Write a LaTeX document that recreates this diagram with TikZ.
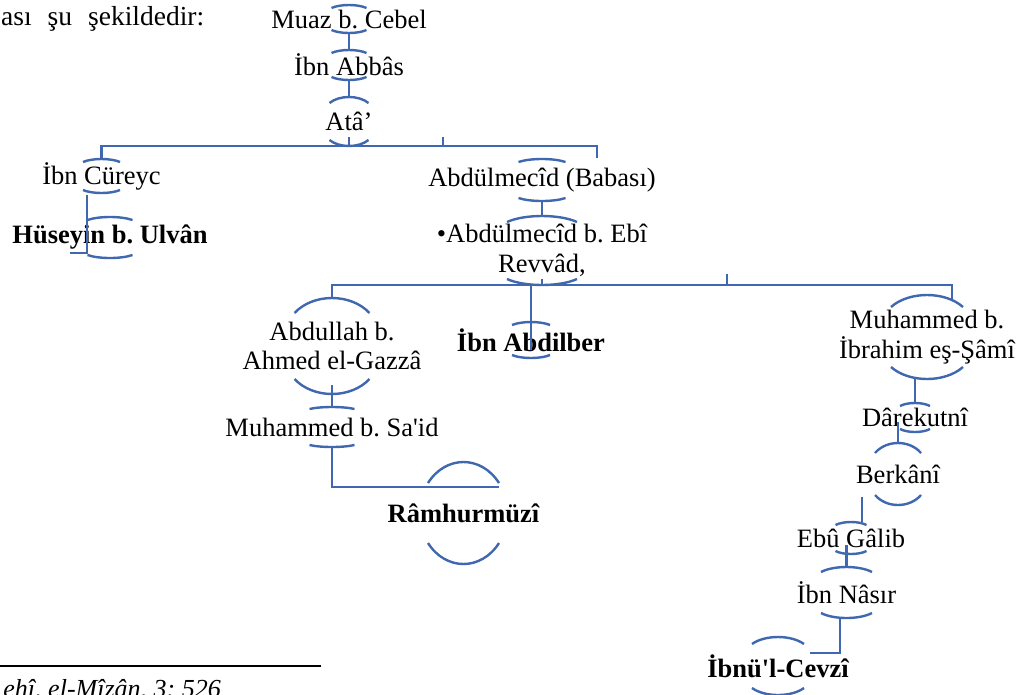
\documentclass[tikz,border=0pt]{standalone}
\usepackage{fontspec}
\setmainfont{Liberation Serif}
\usepackage{tikz}
\usetikzlibrary{calc}
\definecolor{chainblue}{HTML}{4068B0}
\frenchspacing

% bracket pair round a narrator: node, half width, half height, sag
\newcommand{\brk}[4]{%
  \draw[brkline] ($(#1)+(-#2,-#3+#4)$) .. controls ($(#1)+(-#2/2,-#3-#4/3)$) and ($(#1)+(#2/2,-#3-#4/3)$) .. ($(#1)+(#2,-#3+#4)$);
  \draw[brkline] ($(#1)+(-#2,#3-#4)$) .. controls ($(#1)+(-#2/2,#3+#4/3)$) and ($(#1)+(#2/2,#3+#4/3)$) .. ($(#1)+(#2,#3-#4)$);
  \coordinate (#1-t) at ($(#1)+(0,-#3)$);
  \coordinate (#1-b) at ($(#1)+(0,#3)$);
}

\begin{document}
\begin{tikzpicture}[x=1pt, y=-1pt,
  person/.style={font=\fontsize{26.5}{29.5}\selectfont, align=center, inner sep=0pt},
  bperson/.style={person, font=\fontsize{26.5}{29.5}\selectfont\bfseries},
  brkline/.style={draw=chainblue, line width=2.4pt},
  conn/.style={draw=chainblue, line width=2.4pt}
]
\useasboundingbox[fill=white] (0,0) rectangle (1022,694);

% text round the chart
\node[person, font=\fontsize{27.5}{30}\selectfont, anchor=base west] (intro) at (1,25) {\makebox[203pt][s]{ası şu şekildedir:}};
\draw[line width=1.5pt] (0,666) -- (321,666);
\node[person, font=\fontsize{26}{29}\selectfont\itshape, anchor=base east] (foot) at (221,697) {ehî, el-Mîzân, 3: 526};

% top of the chain
\node[person] (muaz) at (349,19) {Muaz b. Cebel};
\node[person] (abbas) at (349,65) {İbn Abbâs};
\node[person] (ata) at (349,121.5) {Atâ’};
\brk{muaz}{17.5}{14}{3}
\brk{abbas}{17.5}{15}{3}
\brk{ata}{19.5}{24.5}{6}
\draw[conn] (muaz-b) -- (abbas-t);
\draw[conn] (abbas-b) -- (ata-t);

% level 2
\node[person] (cureyc) at (101.5,176) {İbn Cüreyc};
\node[bperson] (huseyin) at (110,237.5) {Hüseyin b. Ulvân};
\node[person] (babasi) at (542,180) {Abdülmecîd (Babası)};
\node[person] (revvad) at (542,250.5) {•Abdülmecîd b. Ebî\\Revvâd,};
\brk{cureyc}{18.5}{17}{3}
\brk{huseyin}{22.5}{20.5}{3}
\brk{babasi}{23.5}{21}{3}
\brk{revvad}{35}{34.5}{6}
\coordinate (babasi-in) at (597,158);
\draw[conn] (ata-b) -- ++(0,-9);
\draw[conn] ($(ata-b)+(94,0)$) -- ++(0,-9);
\draw[conn] (cureyc-t) |- (babasi-in |- ata-b) -- (babasi-in);
\draw[conn] ($(cureyc-b)+(-14.5,2)$) |- ($(huseyin)+(-40,15.5)$);
\draw[conn] (babasi-b) -- (revvad-t);

% level 3
\node[person] (abdullah) at (332,346) {Abdullah b.\\Ahmed el-Gazzâ};
\node[bperson] (abdilber) at (531,340) {İbn Abdilber};
\node[person] (sami) at (927,337) {Muhammed b.\\İbrahim eş-Şâmî};
\brk{abdullah}{37.5}{48}{15}
\brk{abdilber}{19}{18}{3}
\brk{sami}{36}{42}{12}
\coordinate (sami-in) at (952,299);
\draw[conn] (revvad-b) -- ++(0,-6);
\draw[conn] ($(revvad-b)+(185,0)$) -- ++(0,-11);
\draw[conn] (abdullah-t) |- (sami-in |- revvad-b) -- (sami-in);
\draw[conn] (abdilber |- revvad-b) -- ($(abdilber)+(0,10)$);

% left branch
\node[person] (said) at (332,427) {Muhammed b. Sa\textquotesingle id};
\node[bperson] (ramhurmuzi) at (463.5,513) {Râmhurmüzî};
\brk{said}{22.5}{20}{2}
\brk{ramhurmuzi}{35.5}{51}{21}
\draw[conn] (said-t) -- ++(0,-22);
\draw[conn] (said-b) |- ($(ramhurmuzi-t)+(35.5,25)$);

% right branch
\node[person] (darekutni) at (915,417.5) {Dârekutnî};
\node[person] (berkani) at (898,474) {Berkânî};
\node[person] (ebugalib) at (851,538) {Ebû Gâlib};
\node[person] (nasir) at (846.5,592.5) {İbn Nâsır};
\node[bperson] (cevzi) at (778,666) {İbnü\textquotesingle l-Cevzî};
\brk{darekutni}{15}{14.5}{3}
\brk{berkani}{23}{31}{10}
\brk{ebugalib}{15.5}{16}{3}
\brk{nasir}{25.5}{25.5}{5}
\brk{cevzi}{26}{29}{7}
\draw[conn] (darekutni |- sami-b) -- (darekutni-t);
\draw[conn] (berkani-t) -- ++(0,-21);
\draw[conn] ($(ebugalib-t)+(11,0)$) -- ++(0,-25);
\draw[conn] (nasir-t) -- ++(0,-22);
\draw[conn] ($(nasir-b)+(-6.5,0)$) |- ($(cevzi-t)+(32,16)$);
\end{tikzpicture}
\end{document}
